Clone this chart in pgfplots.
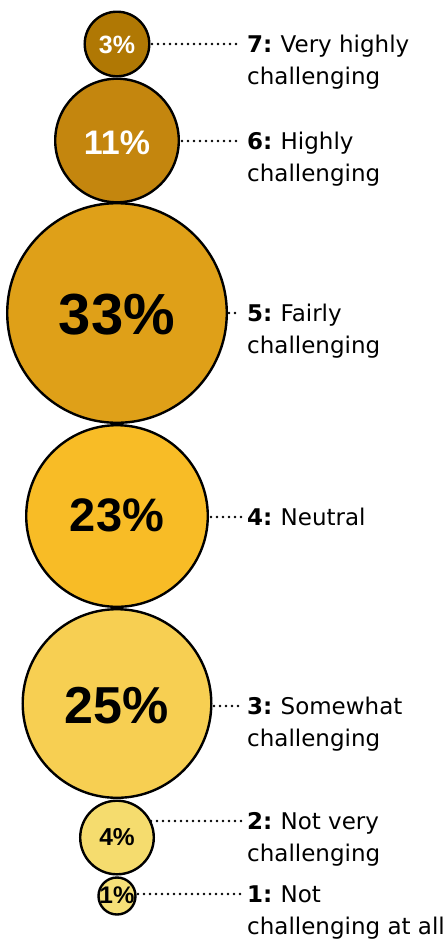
\documentclass[border=0pt]{standalone}
\usepackage{pgfplots}
\pgfplotsset{compat=1.18}
\usepackage{fontspec}
\setmainfont{DejaVu Sans}
\newfontfamily\pctfont{Liberation Sans}
\definecolor{c7}{RGB}{176,120,4}
\definecolor{c6}{RGB}{196,134,14}
\definecolor{c5}{RGB}{223,160,24}
\definecolor{c4}{RGB}{248,188,38}
\definecolor{c3}{RGB}{247,207,82}
\definecolor{c2}{RGB}{245,220,110}
\definecolor{c1}{RGB}{246,224,120}
\newcommand{\lab}{\fontsize{23}{27}\selectfont}
\newcommand{\num}[1]{\textbf{#1}\hspace{-1.5pt}}
\pgfplotsset{leader/.style={black, line width=2.7pt, line cap=round, dash pattern=on 0pt off 6pt, forget plot},
  bub/.style={only marks, mark=*, forget plot}}
\begin{document}
\begin{tikzpicture}[x=1pt,y=1pt]
\path[use as bounding box] (0,0) rectangle (446,940);
\begin{axis}[at={(0,0)}, anchor=south west, width=446pt, height=940pt, scale only axis,
  xmin=0, xmax=446, ymin=0, ymax=940, y dir=reverse, hide axis, clip=false]
% leader lines
\addplot[leader] coordinates {(152,44) (241,44)};
\addplot[leader] coordinates {(182,141) (241,141)};
\addplot[leader] coordinates {(229,313) (241,313)};
\addplot[leader] coordinates {(211,517) (241,517)};
\addplot[leader] coordinates {(214,706) (241,706)};
\addplot[leader] coordinates {(151,821) (241,821)};
\addplot[leader] coordinates {(138,894) (241,894)};
% circles (radius ~ sqrt of share)
\addplot[bub, mark size=32.3pt, mark options={draw=black, fill=c7, line width=2.4pt}] coordinates {(117,44)};
\addplot[bub, mark size=61.8pt, mark options={draw=black, fill=c6, line width=2.4pt}] coordinates {(117,140.5)};
\addplot[bub, mark size=109.8pt, mark options={draw=black, fill=c5, line width=2.4pt}] coordinates {(117,313)};
\addplot[bub, mark size=90.8pt, mark options={draw=black, fill=c4, line width=2.4pt}] coordinates {(117,516)};
\addplot[bub, mark size=94.3pt, mark options={draw=black, fill=c3, line width=2.4pt}] coordinates {(117,703.5)};
\addplot[bub, mark size=36.8pt, mark options={draw=black, fill=c2, line width=2.4pt}] coordinates {(117,837.5)};
\addplot[bub, mark size=18.5pt, mark options={draw=black, fill=c1, line width=2.4pt}] coordinates {(117,896)};
\coordinate (p7) at (axis cs:117,53.3);
\coordinate (p6) at (axis cs:117,155);
\coordinate (p5) at (axis cs:117,335);
\coordinate (p4) at (axis cs:117,531.7);
\coordinate (p3) at (axis cs:117,723.3);
\coordinate (p2) at (axis cs:117,846);
\coordinate (p1) at (axis cs:117,903.3);
% category labels
\node[anchor=base west, font=\lab, inner sep=0pt] at (axis cs:247,52.4) {\num{7:} Very highly};
\node[anchor=base west, font=\lab, inner sep=0pt] at (axis cs:247,84.9) {challenging};
\node[anchor=base west, font=\lab, inner sep=0pt] at (axis cs:247,149.4) {\num{6:} Highly};
\node[anchor=base west, font=\lab, inner sep=0pt] at (axis cs:247,181.9) {challenging};
\node[anchor=base west, font=\lab, inner sep=0pt] at (axis cs:247,321.4) {\num{5:} Fairly};
\node[anchor=base west, font=\lab, inner sep=0pt] at (axis cs:247,353.9) {challenging};
\node[anchor=base west, font=\lab, inner sep=0pt] at (axis cs:247,525.4) {\num{4:} Neutral};
\node[anchor=base west, font=\lab, inner sep=0pt] at (axis cs:247,714.4) {\num{3:} Somewhat};
\node[anchor=base west, font=\lab, inner sep=0pt] at (axis cs:247,746.9) {challenging};
\node[anchor=base west, font=\lab, inner sep=0pt] at (axis cs:247,829.4) {\num{2:} Not very};
\node[anchor=base west, font=\lab, inner sep=0pt] at (axis cs:247,861.9) {challenging};
\node[anchor=base west, font=\lab, inner sep=0pt] at (axis cs:247,902.4) {\num{1:} Not};
\node[anchor=base west, font=\lab, inner sep=0pt] at (axis cs:247,934.9) {challenging at all};
\end{axis}
% percentages, on top of the bubbles
\node[anchor=base, white, font=\pctfont\bfseries\fontsize{25}{25}\selectfont] at (p7) {3\%};
\node[anchor=base, white, font=\pctfont\bfseries\fontsize{34}{34}\selectfont] at (p6) {11\%};
\node[anchor=base, black, font=\pctfont\bfseries\fontsize{58}{58}\selectfont] at (p5) {33\%};
\node[anchor=base, black, font=\pctfont\bfseries\fontsize{47}{47}\selectfont] at (p4) {23\%};
\node[anchor=base, black, font=\pctfont\bfseries\fontsize{52}{52}\selectfont] at (p3) {25\%};
\node[anchor=base, black, font=\pctfont\bfseries\fontsize{24.5}{25}\selectfont] at (p2) {4\%};
\node[anchor=base, black, font=\pctfont\bfseries\fontsize{24}{24}\selectfont] at (p1) {1\%};
\end{tikzpicture}
\end{document}
